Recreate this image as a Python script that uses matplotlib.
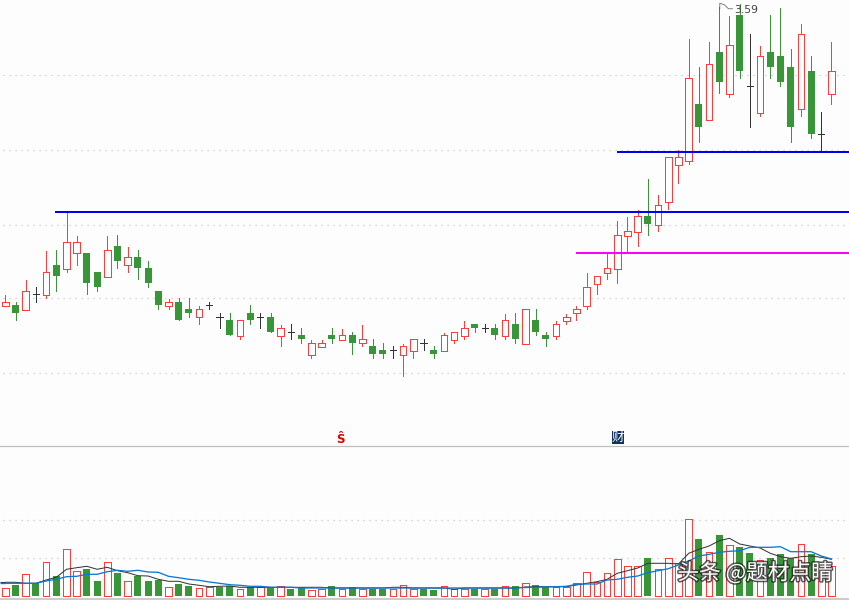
import matplotlib
matplotlib.use("Agg")
import matplotlib.pyplot as plt
import matplotlib.patheffects as pe
from matplotlib.patches import Rectangle
import numpy as np

opens = [2.836,2.838,2.826,2.864,2.863,2.938,2.928,2.967,2.968,2.92,2.908,2.985,2.937,2.958,2.93,2.872,2.836,2.845,2.828,2.807,
         2.837,2.807,2.8,2.761,2.818,2.807,2.808,2.761,2.769,2.762,2.713,2.733,2.762,2.751,2.762,2.742,2.735,2.725,2.725,2.713,
         2.723,2.742,2.725,2.723,2.751,2.761,2.79,2.779,2.78,2.761,2.79,2.741,2.8,2.762,2.761,2.798,2.817,2.836,2.891,2.918,
         2.928,3.011,3.021,3.06,3.038,3.096,3.188,3.198,3.34,3.301,3.47,3.366,3.562,3.384,3.318,3.47,3.46,3.432,3.328,3.422,3.264,3.366]
closes = [2.845,2.818,2.872,2.864,2.919,2.91,2.994,2.994,2.892,2.882,2.974,2.948,2.957,2.93,2.892,2.838,2.844,2.8,2.818,2.827,
          2.837,2.807,2.762,2.799,2.8,2.807,2.77,2.779,2.769,2.752,2.742,2.742,2.752,2.762,2.742,2.752,2.715,2.715,2.725,2.734,
          2.752,2.742,2.715,2.762,2.769,2.779,2.78,2.779,2.762,2.799,2.752,2.827,2.77,2.752,2.789,2.807,2.827,2.882,2.909,2.929,
          3.012,3.022,3.059,3.04,3.087,3.207,3.207,3.404,3.282,3.439,3.395,3.487,3.422,3.384,3.459,3.432,3.395,3.282,3.514,3.265,3.264,3.422]
highs = [2.862,2.845,2.9,2.882,2.972,2.975,3.068,3.01,2.968,2.92,3.01,3.012,2.982,2.975,2.948,2.872,2.852,2.855,2.855,2.835,
         2.845,2.818,2.818,2.799,2.838,2.818,2.818,2.788,2.79,2.78,2.75,2.75,2.78,2.778,2.77,2.788,2.752,2.742,2.735,2.74,
         2.752,2.752,2.735,2.768,2.769,2.798,2.79,2.79,2.79,2.815,2.818,2.827,2.828,2.77,2.798,2.815,2.835,2.918,2.909,2.968,
         3.048,3.058,3.075,3.152,3.112,3.207,3.225,3.502,3.432,3.495,3.582,3.56,3.59,3.515,3.485,3.562,3.58,3.478,3.54,3.46,3.32,3.495]
lows = [2.836,2.8,2.826,2.845,2.856,2.872,2.92,2.938,2.865,2.872,2.908,2.93,2.92,2.902,2.882,2.828,2.828,2.8,2.808,2.79,
        2.828,2.78,2.762,2.752,2.79,2.78,2.77,2.735,2.752,2.742,2.705,2.733,2.742,2.751,2.715,2.735,2.705,2.705,2.705,2.66,
        2.705,2.725,2.705,2.723,2.742,2.752,2.77,2.77,2.752,2.752,2.742,2.741,2.762,2.735,2.752,2.79,2.8,2.828,2.865,2.902,
        2.892,2.968,2.985,3.012,3.022,3.078,3.142,3.19,3.245,3.301,3.368,3.358,3.405,3.282,3.31,3.405,3.385,3.245,3.31,3.255,3.22,3.34]

volumes = [7.7,11,21.7,12.7,33.7,20,46.7,24.7,27,15,33.7,23,14.7,20,15,16,8.7,12,10,7.7,
           8.7,9.3,10.3,6.7,8.7,8.7,8.7,9.7,7,8.7,5.7,6.7,10,7.3,9,7.3,7.3,7.3,6.7,10.7,
           6.7,7,6,9.7,6.7,7.3,7.3,6.7,7.3,9.7,10,12.7,11,8.7,8.7,8.7,12.7,23.7,14.3,22.7,
           36.7,29.7,29.7,38,26.7,37.7,32.7,76.7,57,43.7,61,50.7,49,43,35.7,37.7,41.7,37.7,51.7,41.7,28,30]
vol_up = [1,0,1,0,1,0,1,1,0,0,1,0,1,0,0,0,1,0,0,1,
          1,0,0,1,0,1,0,1,0,0,1,1,0,1,0,1,0,0,1,1,
          1,0,0,1,1,1,0,1,0,1,0,1,0,0,1,1,1,1,1,1,
          1,1,1,0,1,1,1,1,0,1,0,1,0,0,1,0,0,0,1,0,1,1]
ma_short = [13.7,13.7,12.7,12.7,16,18.7,26.7,28.3,29.7,26.7,28.7,25.3,23.3,20.3,20,16.7,14.7,14.7,12,10.7,
            9.3,9.7,10,8.7,8.7,8.7,8.7,8.7,8.7,8.7,8.7,8.7,8,8,8,8,8,8,8.7,8.7,
            8,8,8,8,6.7,8,8,8,8,8,8,9,9.3,9.3,9.3,9.3,11,12.7,14.3,16.7,
            22.7,25.3,28,32.7,32.7,32.7,32,42.7,46.7,50,55.3,57.7,52,50,48,42.7,39.3,37.7,39.3,40,38.7,36.7]
ma_long = [12.7,12.7,12.7,12.7,15,16.7,19.3,19.7,21.7,21.7,24.3,25.7,24.7,25.7,24,23.7,19.7,18.3,16.7,15.7,
           14,12.7,11.3,10.7,9.7,9.7,8.7,8.7,8.7,8,8,8,8,8,8,8,8,8,8,8,
           8,8,8,8,8,8,8,8,8,8,8,8.5,8.7,9,9.3,9.7,11.7,12,12,16,
           16.7,18.7,20,23.3,25.3,27.3,31,35,40,41.7,43.7,44.7,45.3,48.7,48.7,48.7,49.3,44.3,44.3,44.3,40,37]

support_levels = [3.22, 3.07, 2.9675]
support_starts = [59.97, 4.87, 55.95]
support_colors = ["#0000EE", "#0000EE", "#FF00FF"]
price_grid = [3.4125, 3.225, 3.0375, 2.8538, 2.6675]
vol_grid = [76, 38]

W, H = 849, 601
x = np.arange(len(opens))
xlim = (-5.3 / 10.2, (W - 5.3) / 10.2)
BG = "#FDFDFD"
RED = "#FF3C3C"
GREEN = "#389638"
DARK = "#333333"
GRID = "#C4C4C4"
px = 72 / 100

plt.rcParams["font.family"] = ["Noto Sans CJK SC", "DejaVu Sans"]
fig = plt.figure(figsize=(W / 100, H / 100), dpi=100, facecolor=BG)
ax = fig.add_axes([0, 156 / H, 1, 445 / H], facecolor=BG)
av = fig.add_axes([0, 0, 1, 156 / H], facecolor=BG)

for a in (ax, av):
    a.set_xlim(*xlim)
    a.set_xticks([])
    a.set_yticks([])
    for s in a.spines.values():
        s.set_visible(False)
ax.set_ylim(3.6 - 445 / 400, 3.6)
av.set_ylim(-5, 151)

dots = (0, (1, 4))
for g in price_grid:
    ax.hlines(g, -0.2, xlim[1], color=GRID, lw=1.2 * px, ls=dots, zorder=1)
for g in vol_grid:
    av.hlines(g, -0.2, xlim[1], color=GRID, lw=1.2 * px, ls=dots, zorder=1)

o, c, h, l = map(np.array, (opens, closes, highs, lows))
up, down, flat = c > o, c < o, c == o
width = 0.64

ax.vlines(x[up], h[up], l[up], color=RED, lw=1 * px, zorder=2, antialiased=False)
ax.vlines(x[down], h[down], l[down], color=GREEN, lw=1 * px, zorder=2, antialiased=False)
ax.vlines(x[flat], h[flat], l[flat], color=DARK, lw=1 * px, zorder=2, antialiased=False)
ax.bar(x[up], (c - o)[up], bottom=o[up], width=width, facecolor=BG, edgecolor=RED, lw=1 * px, zorder=3, antialiased=False)
ax.bar(x[down], (o - c)[down], bottom=c[down], width=0.7, facecolor=GREEN, edgecolor=GREEN, lw=0, zorder=3, antialiased=False)
ax.hlines(c[flat], x[flat] - 0.3, x[flat] + 0.3, color=DARK, lw=1 * px, zorder=3, antialiased=False)

for lev, st, col in zip(support_levels, support_starts, support_colors):
    ax.hlines(lev, st, xlim[1], color=col, lw=2 * px, zorder=4, antialiased=False)

# high-price flag
ax.plot([70.05, 70.05, 70.5, 70.9, 71.3], [3.578, 3.592, 3.588, 3.578, 3.578], color="#555555", lw=0.7 * px, zorder=5)
ax.text(71.5, 3.575, "3.59", fontsize=7.8, color="#444444", va="center", ha="left", family="DejaVu Sans", zorder=5)

# event markers
ax.text(32.85, 2.5, "Ŝ", color="#E00000", fontsize=8.5, fontweight="bold", ha="center", va="center", family="DejaVu Sans")
ax.add_patch(Rectangle((59.45, 2.49), 1.25, 0.0325, fc="#103060", ec="none", zorder=5))
ax.text(60.07, 2.5055, "财", color="white", fontsize=9, ha="center", va="center", zorder=6)

vu = np.array(vol_up, bool)
v = np.array(volumes)
av.bar(x[~vu], v[~vu], width=0.7, facecolor=GREEN, edgecolor=GREEN, lw=0, zorder=2, antialiased=False)
av.bar(x[vu], v[vu], width=width, facecolor=BG, edgecolor=RED, lw=1 * px, zorder=2, antialiased=False)
av.plot(x, ma_short, color=DARK, lw=1 * px, zorder=3)
av.plot(x, ma_long, color="#0A78D2", lw=1.3 * px, zorder=4)
av.hlines(ma_short[0], xlim[0], 0, color=DARK, lw=1 * px, zorder=3)
av.hlines(ma_long[0], xlim[0], 0, color="#0A78D2", lw=1.3 * px, zorder=4)

# panel separators
av.axhline(151 - 0.6, color="#BDBDBD", lw=1.2 * px, zorder=6)
av.axhline(-2.5, color="#BDBDBD", lw=1.5 * px, zorder=6)

# watermark
fig.text(755 / W, 1 - 573.5 / H, "头条 @题材点睛", fontsize=15.6, color="white", ha="center", va="center",
         path_effects=[pe.withStroke(linewidth=2.2, foreground="#222222", alpha=0.75)], zorder=10)

fig.savefig("out.png", dpi=100, facecolor=BG)
